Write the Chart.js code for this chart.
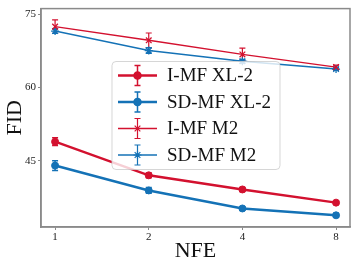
<!DOCTYPE html>
<html>
<head>
<meta charset="utf-8">
<script src="https://cdn.jsdelivr.net/npm/chart.js@4/dist/chart.umd.min.js"></script>
<style>
  html, body { margin: 0; padding: 0; background: #fff; }
  #c { display: block; }
</style>
</head>
<body>
<canvas id="c" width="357" height="268" style="width:357px;height:268px"></canvas>
<script>
var nfe = [1, 2, 4, 8];
var yTicks = [45, 60, 75];

var imfXL = [48.9, 42.0, 39.1, 36.4];
var imfXLErr = [0.8, 0.5, 0.4, 0.3];
var sdmfXL = [44.0, 38.9, 35.2, 33.8];
var sdmfXLErr = [1.0, 0.6, 0.3, 0.4];
var imfM2 = [72.5, 69.7, 66.8, 64.2];
var imfM2Err = [1.4, 1.5, 1.3, 0.4];
var sdmfM2 = [71.6, 67.6, 65.4, 63.8];
var sdmfM2Err = [0.5, 0.6, 0.4, 0.3];

var RED = '#d3112f';
var BLUE = '#1472b6';
var FRAME = '#8a8a8a';
var SERIF = '"Liberation Serif", "DejaVu Serif", serif';

function pts(ys) {
    return nfe.map(function(x, i) { return {x: x, y: ys[i]}; });
}

function series(label, ys, errs, color, style, thick) {
    return {
        label: label,
        data: pts(ys),
        errs: errs,
        borderColor: color,
        backgroundColor: color,
        borderWidth: thick ? 2.5 : 1.4,
        pointStyle: style,
        pointRadius: thick ? 3.5 : 4,
        pointBorderWidth: thick ? 1 : 1.3,
        pointBackgroundColor: color,
        pointBorderColor: color,
        capW: 3,
        errW: thick ? 1.5 : 1.2,
        fill: false,
        tension: 0
    };
}

var datasets = [
    series('I-MF XL-2', imfXL, imfXLErr, RED, 'circle', true),
    series('SD-MF XL-2', sdmfXL, sdmfXLErr, BLUE, 'circle', true),
    series('I-MF M2', imfM2, imfM2Err, RED, 'crossRot', false),
    series('SD-MF M2', sdmfM2, sdmfM2Err, BLUE, 'star', false)
];

// error bars, frame and the in-plot legend
var extras = {
    id: 'extras',
    beforeDatasetsDraw: function(chart) {
        var ctx = chart.ctx, xs = chart.scales.x, ys = chart.scales.y;
        chart.data.datasets.forEach(function(ds) {
            ctx.save();
            ctx.strokeStyle = ds.borderColor;
            ctx.lineWidth = ds.errW;
            ds.data.forEach(function(p, i) {
                var px = xs.getPixelForValue(p.x);
                var top = ys.getPixelForValue(p.y + ds.errs[i]);
                var bot = ys.getPixelForValue(p.y - ds.errs[i]);
                ctx.beginPath();
                ctx.moveTo(px, top); ctx.lineTo(px, bot);
                ctx.moveTo(px - ds.capW, top); ctx.lineTo(px + ds.capW, top);
                ctx.moveTo(px - ds.capW, bot); ctx.lineTo(px + ds.capW, bot);
                ctx.stroke();
            });
            ctx.restore();
        });
    },
    afterDraw: function(chart) {
        var ctx = chart.ctx, a = chart.chartArea;
        ctx.save();
        ctx.strokeStyle = FRAME;
        ctx.lineWidth = 1.5;
        ctx.strokeRect(a.left, a.top, a.right - a.left, a.bottom - a.top);

        // legend box
        var bx = 112, by = 61.5, bw = 168, bh = 108, r = 4;
        ctx.beginPath();
        ctx.roundRect(bx, by, bw, bh, r);
        ctx.fillStyle = 'rgba(255,255,255,0.8)';
        ctx.fill();
        ctx.strokeStyle = 'rgba(204,204,204,0.8)';
        ctx.lineWidth = 1;
        ctx.stroke();

        var rows = [75.5, 102, 128.5, 155];
        chart.data.datasets.forEach(function(ds, i) {
            var y = rows[i];
            ctx.strokeStyle = ds.borderColor;
            ctx.lineWidth = ds.borderWidth;
            ctx.beginPath();
            ctx.moveTo(118, y); ctx.lineTo(157, y);
            ctx.stroke();
            ctx.lineWidth = ds.errW;
            ctx.beginPath();
            ctx.moveTo(137.5, y - 10); ctx.lineTo(137.5, y + 10);
            ctx.moveTo(134.5, y - 10); ctx.lineTo(140.5, y - 10);
            ctx.moveTo(134.5, y + 10); ctx.lineTo(140.5, y + 10);
            ctx.stroke();
            ctx.fillStyle = ds.borderColor;
            Chart.helpers.drawPoint(ctx, {
                pointStyle: ds.pointStyle,
                radius: ds.pointRadius,
                borderWidth: ds.pointBorderWidth,
                rotation: 0
            }, 137.5, y);
            if (ds.pointStyle === 'circle') ctx.fill();
            ctx.fillStyle = '#111';
            ctx.font = '19px ' + SERIF;
            ctx.textBaseline = 'middle';
            ctx.textAlign = 'left';
            ctx.fillText(ds.label, 167, y + 1);
        });
        ctx.restore();
    }
};

var chartData = {
    type: 'line',
    data: { datasets: datasets },
    options: {
        responsive: false,
        animation: false,
        layout: { padding: { top: 6, right: 7, left: 0, bottom: 0 } },
        plugins: { legend: { display: false }, tooltip: { enabled: false } },
        scales: {
            x: {
                type: 'logarithmic',
                min: 0.901,
                max: 8.87,
                afterBuildTicks: function(s) {
                    s.ticks = nfe.map(function(v) { return {value: v}; });
                },
                afterFit: function(s) { s.height = 41; },
                ticks: {
                    autoSkip: false,
                    maxRotation: 0,
                    padding: 1,
                    color: '#222',
                    font: { family: SERIF, size: 11 },
                    callback: function(v) { return String(v); }
                },
                grid: { display: true, drawOnChartArea: false, drawTicks: true, tickLength: 3, color: FRAME },
                border: { display: true, color: FRAME, width: 1.5 },
                title: { display: true, text: 'NFE', color: '#111', font: { family: SERIF, size: 22 }, padding: { top: 0, bottom: 4 } }
            },
            y: {
                type: 'linear',
                min: 31.4,
                max: 76.2,
                afterBuildTicks: function(s) {
                    s.ticks = yTicks.map(function(v) { return {value: v}; });
                },
                afterFit: function(s) { s.width = 41; },
                ticks: {
                    padding: 2,
                    color: '#222',
                    font: { family: SERIF, size: 11 },
                    callback: function(v) { return String(v); }
                },
                grid: { display: true, drawOnChartArea: false, drawTicks: true, tickLength: 3, color: FRAME },
                border: { display: true, color: FRAME, width: 1.5 },
                title: { display: true, text: 'FID', color: '#111', font: { family: SERIF, size: 22 }, padding: { top: 2, bottom: 0 } }
            }
        }
    },
    plugins: [extras]
};

var myChart = new Chart(document.getElementById('c').getContext('2d'), chartData);
</script>
</body>
</html>
